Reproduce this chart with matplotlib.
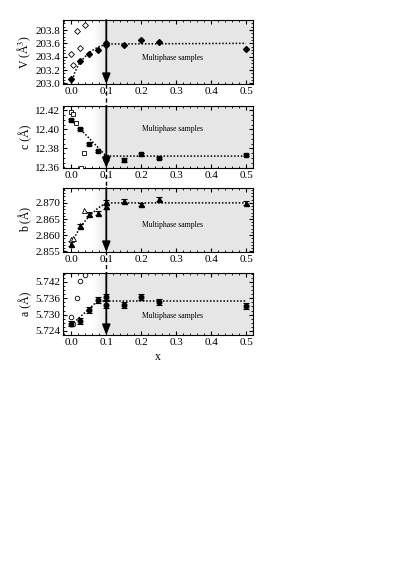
"""Lattice parameters vs x with multiphase region shaded."""

import numpy as np
import matplotlib
matplotlib.use("Agg")
import matplotlib.pyplot as plt
from matplotlib.lines import Line2D

plt.rcParams["font.family"] = ["Liberation Serif", "DejaVu Serif"]
plt.rcParams["mathtext.fontset"] = "stix"

# ---- data ----
x_fill = [0.0, 0.025, 0.05, 0.075, 0.1, 0.1, 0.15, 0.2, 0.25, 0.5]

V_fill = [203.065, 203.33, 203.44, 203.50, 203.58, 203.61, 203.575, 203.65, 203.625, 203.51]
V_open_x = [0.0, 0.006, 0.015, 0.026, 0.038]
V_open = [203.44, 203.275, 203.78, 203.535, 203.87]
V_guide_x = [0.0, 0.01, 0.025, 0.05, 0.075, 0.1, 0.5]
V_guide = [203.0, 203.17, 203.32, 203.46, 203.54, 203.59, 203.60]

c_fill = [12.410, 12.400, 12.3845, 12.377, 12.371, 12.369, 12.368, 12.374, 12.370, 12.373]
c_err = [0.001, 0.001, 0.001, 0.001, 0.0015, 0.0015, 0.0025, 0.0015, 0.0012, 0.0012]
c_open_x = [0.0, 0.005, 0.012, 0.027, 0.035]
c_open = [12.418, 12.4165, 12.407, 12.36, 12.375]
c_guide_x = [0.0, 0.1, 0.5]
c_guide = [12.410, 12.372, 12.372]

b_fill = [2.8574, 2.8629, 2.8665, 2.8669, 2.8702, 2.8690, 2.8705, 2.8695, 2.8712, 2.8700]
b_err = [0.0007, 0.0006, 0.0006, 0.0006, 0.0008, 0.0008, 0.0006, 0.0006, 0.0006, 0.0006]
b_open_x = [0.0, 0.004, 0.025, 0.037]
b_open = [2.8588, 2.8591, 2.8633, 2.8679]
b_guide_x = [0.0, 0.01, 0.025, 0.05, 0.075, 0.1, 0.5]
b_guide = [2.857, 2.8595, 2.8625, 2.8658, 2.8683, 2.8700, 2.8700]

a_fill = [5.7266, 5.7278, 5.7316, 5.7355, 5.7366, 5.7337, 5.7334, 5.7364, 5.7346, 5.7330]
a_err = [0.0009, 0.0011, 0.0011, 0.0011, 0.0011, 0.0013, 0.0011, 0.0011, 0.0011, 0.0011]
a_open_x = [0.0, 0.006, 0.015, 0.026, 0.038]
a_open = [5.7292, 5.7266, 5.7361, 5.7424, 5.7445]
a_guide_x = [0.0, 0.075, 0.5]
a_guide = [5.7262, 5.7350, 5.7350]

x_ticks = [0.0, 0.1, 0.2, 0.3, 0.4, 0.5]
x_boundary = 0.1

panels = [
    dict(y=V_fill, err=None, ox=V_open_x, oy=V_open, gx=V_guide_x, gy=V_guide,
         m="D", ms=3.0, ylim=(202.99, 203.95), ticks=[203.0, 203.2, 203.4, 203.6, 203.8],
         fmt="{:.1f}", label="V (Å$^3$)", txt_y=203.38, top=20, bot=84),
    dict(y=c_fill, err=c_err, ox=c_open_x, oy=c_open, gx=c_guide_x, gy=c_guide,
         m="s", ms=3.2, ylim=(12.3595, 12.4245), ticks=[12.36, 12.38, 12.40, 12.42],
         fmt="{:.2f}", label="c (Å)", txt_y=12.40, top=106, bot=168),
    dict(y=b_fill, err=b_err, ox=b_open_x, oy=b_open, gx=b_guide_x, gy=b_guide,
         m="^", ms=3.6, ylim=(2.8548, 2.8746), ticks=[2.855, 2.860, 2.865, 2.870],
         fmt="{:.3f}", label="b (Å)", txt_y=2.8632, top=188, bot=252),
    dict(y=a_fill, err=a_err, ox=a_open_x, oy=a_open, gx=a_guide_x, gy=a_guide,
         m="o", ms=3.3, ylim=(5.7225, 5.7453), ticks=[5.724, 5.730, 5.736, 5.742],
         fmt="{:.3f}", label="a (Å)", txt_y=5.7294, top=273, bot=335),
]

W, H = 407, 575
fig = plt.figure(figsize=(W / 100, H / 100), dpi=100)
xlim = (-0.024, 0.52)
left, right = 63, 253

axes = []
for p in panels:
    ax = fig.add_axes([left / W, 1 - p["bot"] / H, (right - left) / W, (p["bot"] - p["top"]) / H])
    axes.append(ax)
    ax.set_xlim(*xlim)
    ax.set_ylim(*p["ylim"])
    y0, y1 = p["ylim"]

    # multiphase region with soft left edge
    ax.axvspan(x_boundary, xlim[1], color="#e6e6e6", lw=0, zorder=0)
    grad = np.linspace(0, 1, 64).reshape(1, -1)
    cmap = matplotlib.colors.LinearSegmentedColormap.from_list("g", ["#ffffff", "#e6e6e6"])
    ax.imshow(grad, extent=(0.062, x_boundary, y0, y1), aspect="auto", cmap=cmap,
              origin="lower", zorder=0, interpolation="bilinear")

    ax.plot(p["gx"], p["gy"], ls=(0, (1, 1.2)), color="black", lw=1.1, zorder=2)
    if p["err"] is None:
        ax.plot(x_fill, p["y"], ls="none", marker=p["m"], ms=p["ms"], color="black", zorder=3)
    else:
        ax.errorbar(x_fill, p["y"], yerr=p["err"], ls="none", marker=p["m"], ms=p["ms"],
                    color="black", ecolor="black", elinewidth=0.8, capsize=2.2, capthick=0.8, zorder=3)
    ax.plot(p["ox"], p["oy"], ls="none", marker=p["m"], ms=p["ms"], mfc="white",
            mec="black", mew=0.6, zorder=3)

    # boundary arrow
    ax.annotate("", xy=(x_boundary, y0), xytext=(x_boundary, y1),
                arrowprops=dict(arrowstyle="-|>,head_length=0.6,head_width=0.24",
                                mutation_scale=10, color="black", lw=1.3,
                                shrinkA=0, shrinkB=0), zorder=4)

    ax.text(0.29, p["txt_y"], "Multiphase samples", fontsize=5.5, ha="center", va="center")

    ax.set_xticks(x_ticks)
    ax.set_xticklabels([f"{t:.1f}" for t in x_ticks])
    ax.set_yticks(p["ticks"])
    ax.set_yticklabels([p["fmt"].format(t) for t in p["ticks"]])
    ax.minorticks_on()
    ax.tick_params(which="both", direction="in", top=True, right=True, labelsize=8, pad=2)
    ax.tick_params(which="major", length=3, width=0.8)
    ax.tick_params(which="minor", length=1.5, width=0.6)
    for s in ax.spines.values():
        s.set_linewidth(0.8)
    ax.set_ylabel(p["label"], fontsize=8.5, labelpad=2)

axes[-1].set_xlabel("x", fontsize=8.5, labelpad=3)

# dashed connector between panels
xb = left + (x_boundary - xlim[0]) / (xlim[1] - xlim[0]) * (right - left)
fig.add_artist(Line2D([xb / W, xb / W], [1 - panels[0]["bot"] / H, 1 - panels[-1]["top"] / H],
                      transform=fig.transFigure, color="black", lw=1.0, ls=(0, (3, 2)), zorder=0))

fig.savefig("out.png", dpi=100)
